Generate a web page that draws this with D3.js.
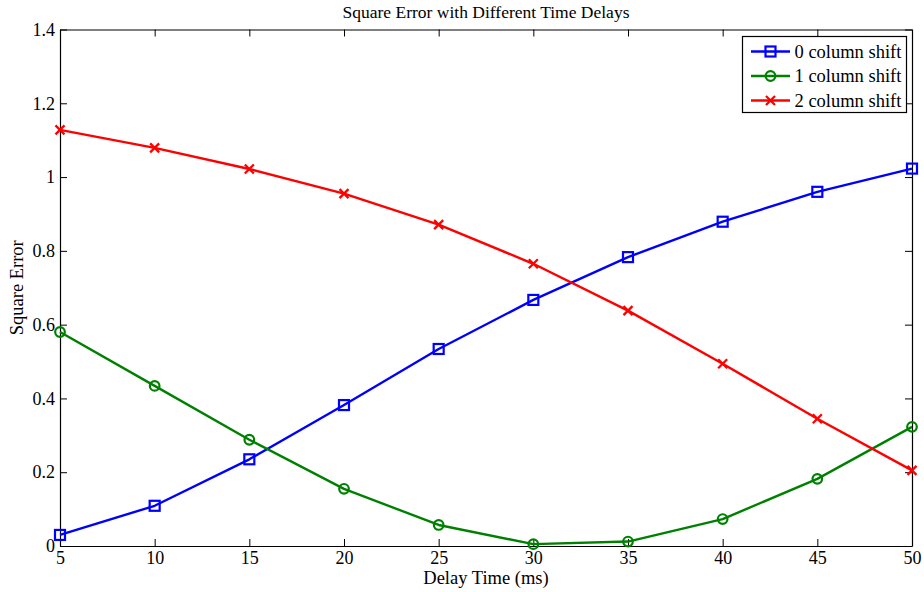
<!DOCTYPE html>
<html>
<head>
<meta charset="utf-8">
<script src="https://cdn.jsdelivr.net/npm/d3@7"></script>
<style>
  html, body { margin: 0; padding: 0; background: #fff; }
  svg { display: block; }
  text { font-family: "Liberation Serif", "DejaVu Serif", serif; fill: #000; }
</style>
</head>
<body>
<script>
// Delay times (ms) on the x axis
const delays = [5, 10, 15, 20, 25, 30, 35, 40, 45, 50];

// Square error for each column shift
const shift0 = [0.030, 0.109, 0.235, 0.382, 0.534, 0.667, 0.783, 0.879, 0.960, 1.023];
const shift1 = [0.580, 0.434, 0.288, 0.155, 0.057, 0.005, 0.012, 0.073, 0.182, 0.323];
const shift2 = [1.128, 1.079, 1.022, 0.955, 0.871, 0.765, 0.638, 0.494, 0.345, 0.205];

const seriesNames = ["0 column shift", "1 column shift", "2 column shift"];
const seriesColors = ["#0000ff", "#008000", "#ff0000"];
const seriesMarkers = ["square", "circle", "cross"];

const xTicks = [5, 10, 15, 20, 25, 30, 35, 40, 45, 50];
const yTicks = [0, 0.2, 0.4, 0.6, 0.8, 1, 1.2, 1.4];

const W = 924, H = 592;
const plotLeft = 60, plotRight = 912, plotTop = 29.5, plotBottom = 546;

const svg = d3.select("body").append("svg").attr("width", W).attr("height", H);

const x = d3.scaleLinear().domain([5, 50]).range([plotLeft, plotRight]);
const y = d3.scaleLinear().domain([0, 1.4]).range([plotBottom, plotTop]);

const fmt = v => (v === 0 ? "0" : d3.format("~g")(v));
const tickLen = 7;

// Axes with inward ticks, mirrored on top and right (boxed frame)
const axisG = svg.append("g");
axisG.append("g").attr("transform", `translate(0,${plotBottom})`)
  .call(d3.axisBottom(x).tickValues(xTicks).tickFormat(fmt).tickSizeInner(-tickLen).tickSizeOuter(0).tickPadding(5));
axisG.append("g").attr("transform", `translate(0,${plotTop})`)
  .call(d3.axisTop(x).tickValues(xTicks).tickFormat("").tickSizeInner(-tickLen).tickSizeOuter(0));
axisG.append("g").attr("transform", `translate(${plotLeft},0)`)
  .call(d3.axisLeft(y).tickValues(yTicks).tickFormat(fmt).tickSizeInner(-tickLen).tickSizeOuter(0).tickPadding(5));
axisG.append("g").attr("transform", `translate(${plotRight},0)`)
  .call(d3.axisRight(y).tickValues(yTicks).tickFormat("").tickSizeInner(-tickLen).tickSizeOuter(0));
axisG.selectAll("path.domain").attr("stroke", "#000").attr("stroke-width", 1.2);
axisG.selectAll(".tick line").attr("stroke", "#000").attr("stroke-width", 1);
axisG.selectAll(".tick text").style("font-family", "'Liberation Serif', serif").style("font-size", "18px").attr("fill", "#000");

// Titles
svg.append("text").attr("x", (plotLeft + plotRight) / 2).attr("y", 18)
  .attr("text-anchor", "middle").style("font-size", "17.5px")
  .text("Square Error with Different Time Delays");
svg.append("text").attr("x", (plotLeft + plotRight) / 2).attr("y", 584)
  .attr("text-anchor", "middle").style("font-size", "18.5px")
  .text("Delay Time (ms)");
svg.append("text").attr("transform", `translate(23,${(plotTop + plotBottom) / 2}) rotate(-90)`)
  .attr("text-anchor", "middle").style("font-size", "18.5px")
  .text("Square Error");

// Marker drawing
function drawMarker(g, type, color) {
  if (type === "square") {
    g.append("rect").attr("x", -5).attr("y", -5).attr("width", 10).attr("height", 10)
      .attr("fill", "none").attr("stroke", color).attr("stroke-width", 2.2);
  } else if (type === "circle") {
    g.append("circle").attr("r", 4.8).attr("fill", "none").attr("stroke", color).attr("stroke-width", 2.2);
  } else {
    g.append("path").attr("d", "M-4.5,-4.5L4.5,4.5M-4.5,4.5L4.5,-4.5")
      .attr("fill", "none").attr("stroke", color).attr("stroke-width", 2.3);
  }
}

const allSeries = [shift0, shift1, shift2];
const line = d3.line().x((d, i) => x(delays[i])).y(d => y(d));

allSeries.forEach((vals, si) => {
  const g = svg.append("g");
  g.append("path").datum(vals).attr("d", line)
    .attr("fill", "none").attr("stroke", seriesColors[si]).attr("stroke-width", 2.4)
    .attr("stroke-linejoin", "round");
  vals.forEach((v, i) => {
    const m = g.append("g").attr("transform", `translate(${x(delays[i])},${y(v)})`);
    drawMarker(m, seriesMarkers[si], seriesColors[si]);
  });
});

// Legend
const lg = svg.append("g");
lg.append("rect").attr("x", 742.5).attr("y", 36.5).attr("width", 164).attr("height", 76)
  .attr("fill", "#fff").attr("stroke", "#000").attr("stroke-width", 1.2);
seriesNames.forEach((name, i) => {
  const cy = 51.5 + i * 24.5;
  lg.append("line").attr("x1", 751).attr("x2", 790).attr("y1", cy).attr("y2", cy)
    .attr("stroke", seriesColors[i]).attr("stroke-width", 2.4);
  const m = lg.append("g").attr("transform", `translate(770.5,${cy})`);
  drawMarker(m, seriesMarkers[i], seriesColors[i]);
  lg.append("text").attr("x", 794.5).attr("y", cy + 6).style("font-size", "18.5px").text(name);
});
</script>
</body>
</html>
